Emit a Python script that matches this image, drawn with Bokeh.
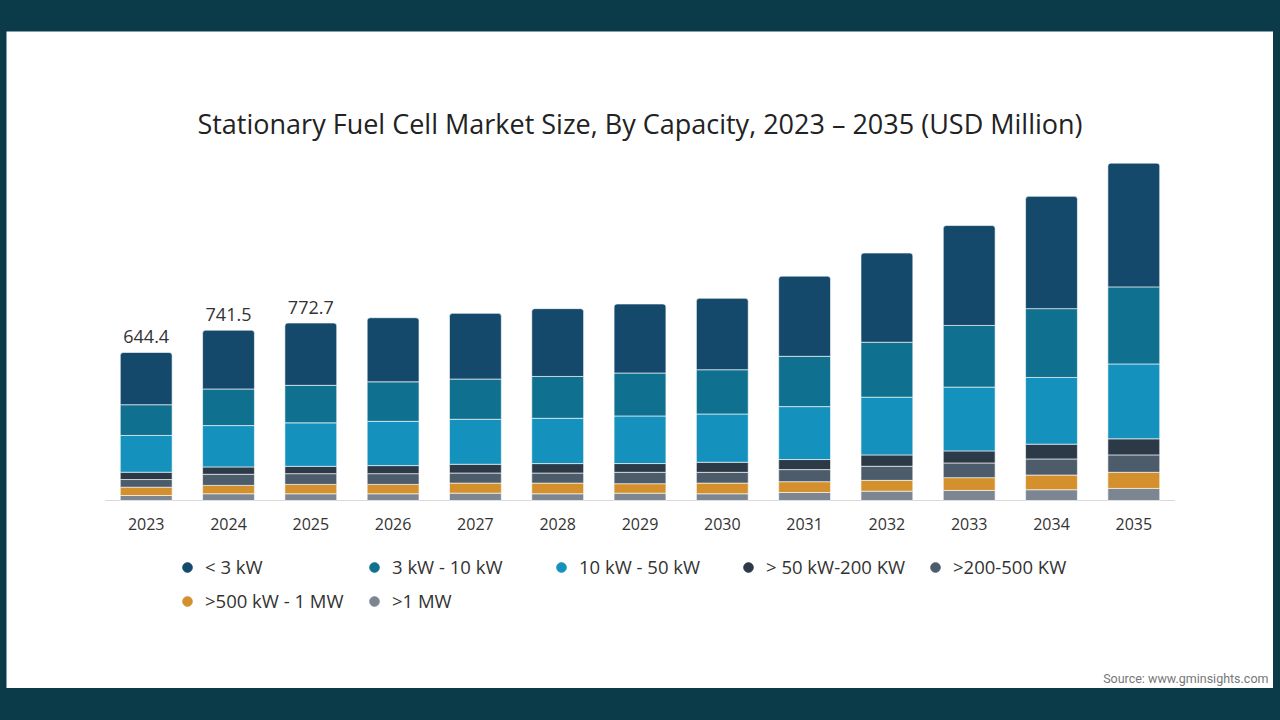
from bokeh.plotting import figure
from bokeh.models import ColumnDataSource, FactorRange, Range1d, Legend, LegendItem, Label
from bokeh.core.properties import value
from bokeh.embed import file_html
from bokeh.resources import INLINE

years = ["2023", "2024", "2025", "2026", "2027", "2028", "2029",
         "2030", "2031", "2032", "2033", "2034", "2035"]

# USD million
lt_3kw = [227.5, 256.0, 271.4, 279.0, 286.0, 295.2, 300.5, 311.0, 349.1, 388.5, 434.9, 488.8, 538.7]
kw_3_10 = [133.8, 159.4, 163.2, 172.1, 175.2, 182.2, 187.0, 192.7, 219.0, 239.1, 268.5, 299.6, 335.5]
kw_10_50 = [160.0, 180.0, 189.4, 192.7, 195.8, 197.1, 207.2, 210.2, 230.4, 251.4, 277.7, 290.4, 325.9]
kw_50_200 = [31.8, 32.0, 31.9, 35.0, 38.1, 41.2, 38.1, 43.8, 43.8, 49.5, 52.6, 64.4, 70.1]
kw_200_500 = [33.5, 48.3, 46.8, 46.9, 43.8, 43.8, 49.5, 46.9, 52.6, 61.3, 63.9, 70.1, 75.8]
kw_500_1mw = [36.1, 36.4, 40.7, 40.7, 43.8, 46.4, 41.2, 46.4, 46.9, 46.9, 55.6, 63.9, 70.1]
gt_1mw = [21.7, 29.4, 29.3, 29.3, 32.0, 29.3, 32.0, 29.3, 35.0, 40.7, 43.8, 46.9, 52.6]

label_years = ["2023", "2024", "2025"]
label_totals = [644.4, 741.5, 772.7]

series_names = ["< 3 kW", "3 kW - 10 kW", "10 kW - 50 kW", "> 50 kW-200 KW",
                ">200-500 KW", ">500 kW - 1 MW", ">1 MW"]
series_colors = ["#15496b", "#10708f", "#1491bc", "#2c3a48",
                 "#4d5c6a", "#d4902c", "#7c8693"]

source = ColumnDataSource(data=dict(
    year=years, lt_3kw=lt_3kw, kw_3_10=kw_3_10, kw_10_50=kw_10_50,
    kw_50_200=kw_50_200, kw_200_500=kw_200_500, kw_500_1mw=kw_500_1mw,
    gt_1mw=gt_1mw))

# the frame fills the whole white card, so nothing gets clipped
p = figure(x_range=FactorRange(*years, range_padding=1.1975, range_padding_units="absolute"),
           y_range=Range1d(-818.5, 2041.8), title=None,
           width=1267, height=657, output_backend="svg", toolbar_location=None,
           x_axis_location=None, y_axis_location=None,
           min_border=0, outline_line_color=None)

p.add_layout(Label(x=633.5, y=565, x_units="screen", y_units="screen",
                   text="Stationary Fuel Cell Market Size, By Capacity, 2023 \u2013 2035 (USD Million)",
                   text_align="center", text_baseline="alphabetic", text_font="Open Sans",
                   text_font_size="27px", text_color="#222222"))

# baseline under the bars
p.segment(x0=[0], y0=[0], x1=[len(years)], y1=[0], line_color="#d9d9d9", line_width=1)

# stack from the bottom up
stack_keys = ["gt_1mw", "kw_500_1mw", "kw_200_500", "kw_50_200", "kw_10_50", "kw_3_10", "lt_3kw"]
stack_colors = series_colors[::-1]
bars = p.vbar_stack(stack_keys, x="year", width=0.63, source=source,
                    fill_color=stack_colors, line_color="white",
                    line_width=1, line_alpha=0.6)
bars[-1].glyph.border_radius = (3, 3, 0, 0)

p.text(x=years, y=[0] * len(years), text=years, y_offset=24,
       text_align="center", text_baseline="middle",
       text_font=value("Open Sans"), text_font_size="16px", text_color="#333333")

p.text(x=label_years, y=label_totals, text=[f"{v:.1f}" for v in label_totals],
       y_offset=-9, text_align="center", text_baseline="bottom",
       text_font=value("Open Sans"), text_font_size="18px", text_color="#333333")

# hidden one-point renderers, only used to get round dots in the legend
items = []
for name, col in zip(series_names, series_colors):
    r = p.scatter(x=[years[0]], y=[0], size=9, fill_color=col, line_color=col, visible=False)
    items.append(LegendItem(label=name, renderers=[r]))

legend = Legend(items=items, location=(169, 75), orientation="horizontal", ncols=5,
                glyph_width=24, glyph_height=24, label_standoff=6, label_width=148,
                spacing=9, padding=0, margin=0, border_line_alpha=0,
                background_fill_alpha=0, inactive_fill_alpha=0,
                label_text_font="Open Sans",
                label_text_font_size="18.5px", label_text_color="#333333")
p.add_layout(legend)

p.add_layout(Label(x=1262, y=10, x_units="screen", y_units="screen",
                   text="Source: www.gminsights.com", text_align="right",
                   text_baseline="alphabetic", text_font="Roboto",
                   text_font_size="12.5px", text_color="#777777"))

p.xgrid.grid_line_color = None
p.ygrid.grid_line_color = None
p.background_fill_color = "white"
p.border_fill_color = "white"

page_style = "<style>body{margin:0 !important;padding:31px 0 0 6px;background:#0b3a48;}</style></head>"
open("out.html", "w").write(file_html(p, INLINE).replace("</head>", page_style))
